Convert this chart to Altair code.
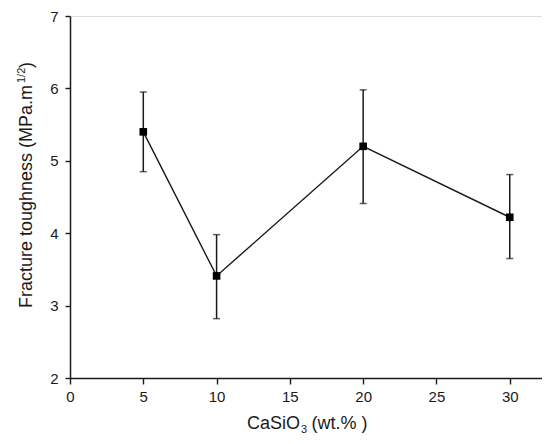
import altair as alt
import pandas as pd

# Data
casio3 = [5, 10, 20, 30]
toughness = [5.40, 3.41, 5.20, 4.22]
err_hi = [5.95, 3.98, 5.98, 4.81]
err_lo = [4.85, 2.82, 4.41, 3.65]

x_ticks = [0, 2.5, 5, 7.5, 10, 12.5, 15, 17.5, 20, 22.5, 25, 27.5, 30]
y_ticks = [2, 2.5, 3, 3.5, 4, 4.5, 5, 5.5, 6, 6.5, 7]

df = pd.DataFrame({"x": casio3, "y": toughness, "hi": err_hi, "lo": err_lo})

FONT = "Liberation Sans"
INK = "#1a1a1a"

xscale = alt.Scale(domain=[0, 32.2], nice=False, zero=False)
yscale = alt.Scale(domain=[2, 7], nice=False, zero=False)

xaxis = alt.Axis(
    values=x_ticks,
    labelExpr="datum.value % 5 === 0 ? format(datum.value, 'd') : ''",
    tickSize={"condition": {"test": "datum.value % 5 !== 0", "value": 3}, "value": 6},
    grid=False, title=None, labelFont=FONT, labelFontSize=15, labelColor=INK,
    labelPadding=5, domainColor=INK, domainWidth=1.5, tickColor=INK, tickWidth=1.4,
    labelFlush=False,
)
yaxis = alt.Axis(
    values=y_ticks,
    labelExpr="datum.value % 1 === 0 ? format(datum.value, 'd') : ''",
    tickSize={"condition": {"test": "datum.value % 1 !== 0", "value": 3}, "value": 5},
    grid=False, title=None, labelFont=FONT, labelFontSize=15, labelColor=INK,
    labelPadding=7, domainColor=INK, domainWidth=1.5, tickColor=INK, tickWidth=1.4,
    labelFlush=False,
)

base = alt.Chart(df)

line = base.mark_line(color=INK, strokeWidth=1.4).encode(
    x=alt.X("x:Q", scale=xscale, axis=xaxis),
    y=alt.Y("y:Q", scale=yscale, axis=yaxis),
)
rules = base.mark_rule(color=INK, strokeWidth=1.5).encode(
    x="x:Q", y="lo:Q", y2="hi:Q"
)
cap_hi = base.mark_tick(color=INK, orient="horizontal", size=7, thickness=1.5).encode(
    x="x:Q", y="hi:Q"
)
cap_lo = base.mark_tick(color=INK, orient="horizontal", size=7, thickness=1.5).encode(
    x="x:Q", y="lo:Q"
)
points = base.mark_square(color="black", size=58, opacity=1, filled=True).encode(
    x="x:Q", y="y:Q"
)

one = pd.DataFrame({"k": [0]})

def label(txt, x, y, size, align, angle=0, baseline="alphabetic"):
    return alt.Chart(one).mark_text(
        text=txt, font=FONT, fontSize=size, color=INK, align=align,
        baseline=baseline, angle=angle,
    ).encode(x=alt.value(x), y=alt.value(y))

# x axis title: CaSiO3 (wt.% )
xt1 = label("CaSiO", 230, 413, 18, "right")
xt2 = label("3", 231, 417, 11, "left")
xt3 = label("(wt.% )", 241.5, 413, 18, "left")

# y axis title: Fracture toughness (MPa.m^1/2)
yt1 = label("Fracture toughness (MPa.m", -38, 69, 18, "right", angle=270)
yt2 = label("1/2", -45, 67, 11, "left", angle=270)
yt3 = label(")", -38, 52, 18, "left", angle=270)

chart = alt.layer(
    line, rules, cap_hi, cap_lo, points, xt1, xt2, xt3, yt1, yt2, yt3
).properties(
    width=472, height=362,
    autosize=alt.AutoSizeParams(type="none"),
    padding={"left": 62, "top": 8, "right": 0, "bottom": 58},
).configure_view(
    stroke=INK, strokeWidth=1.5
).configure(background="white")

chart.save("out.html", embed_options={"renderer": "svg", "actions": False})
